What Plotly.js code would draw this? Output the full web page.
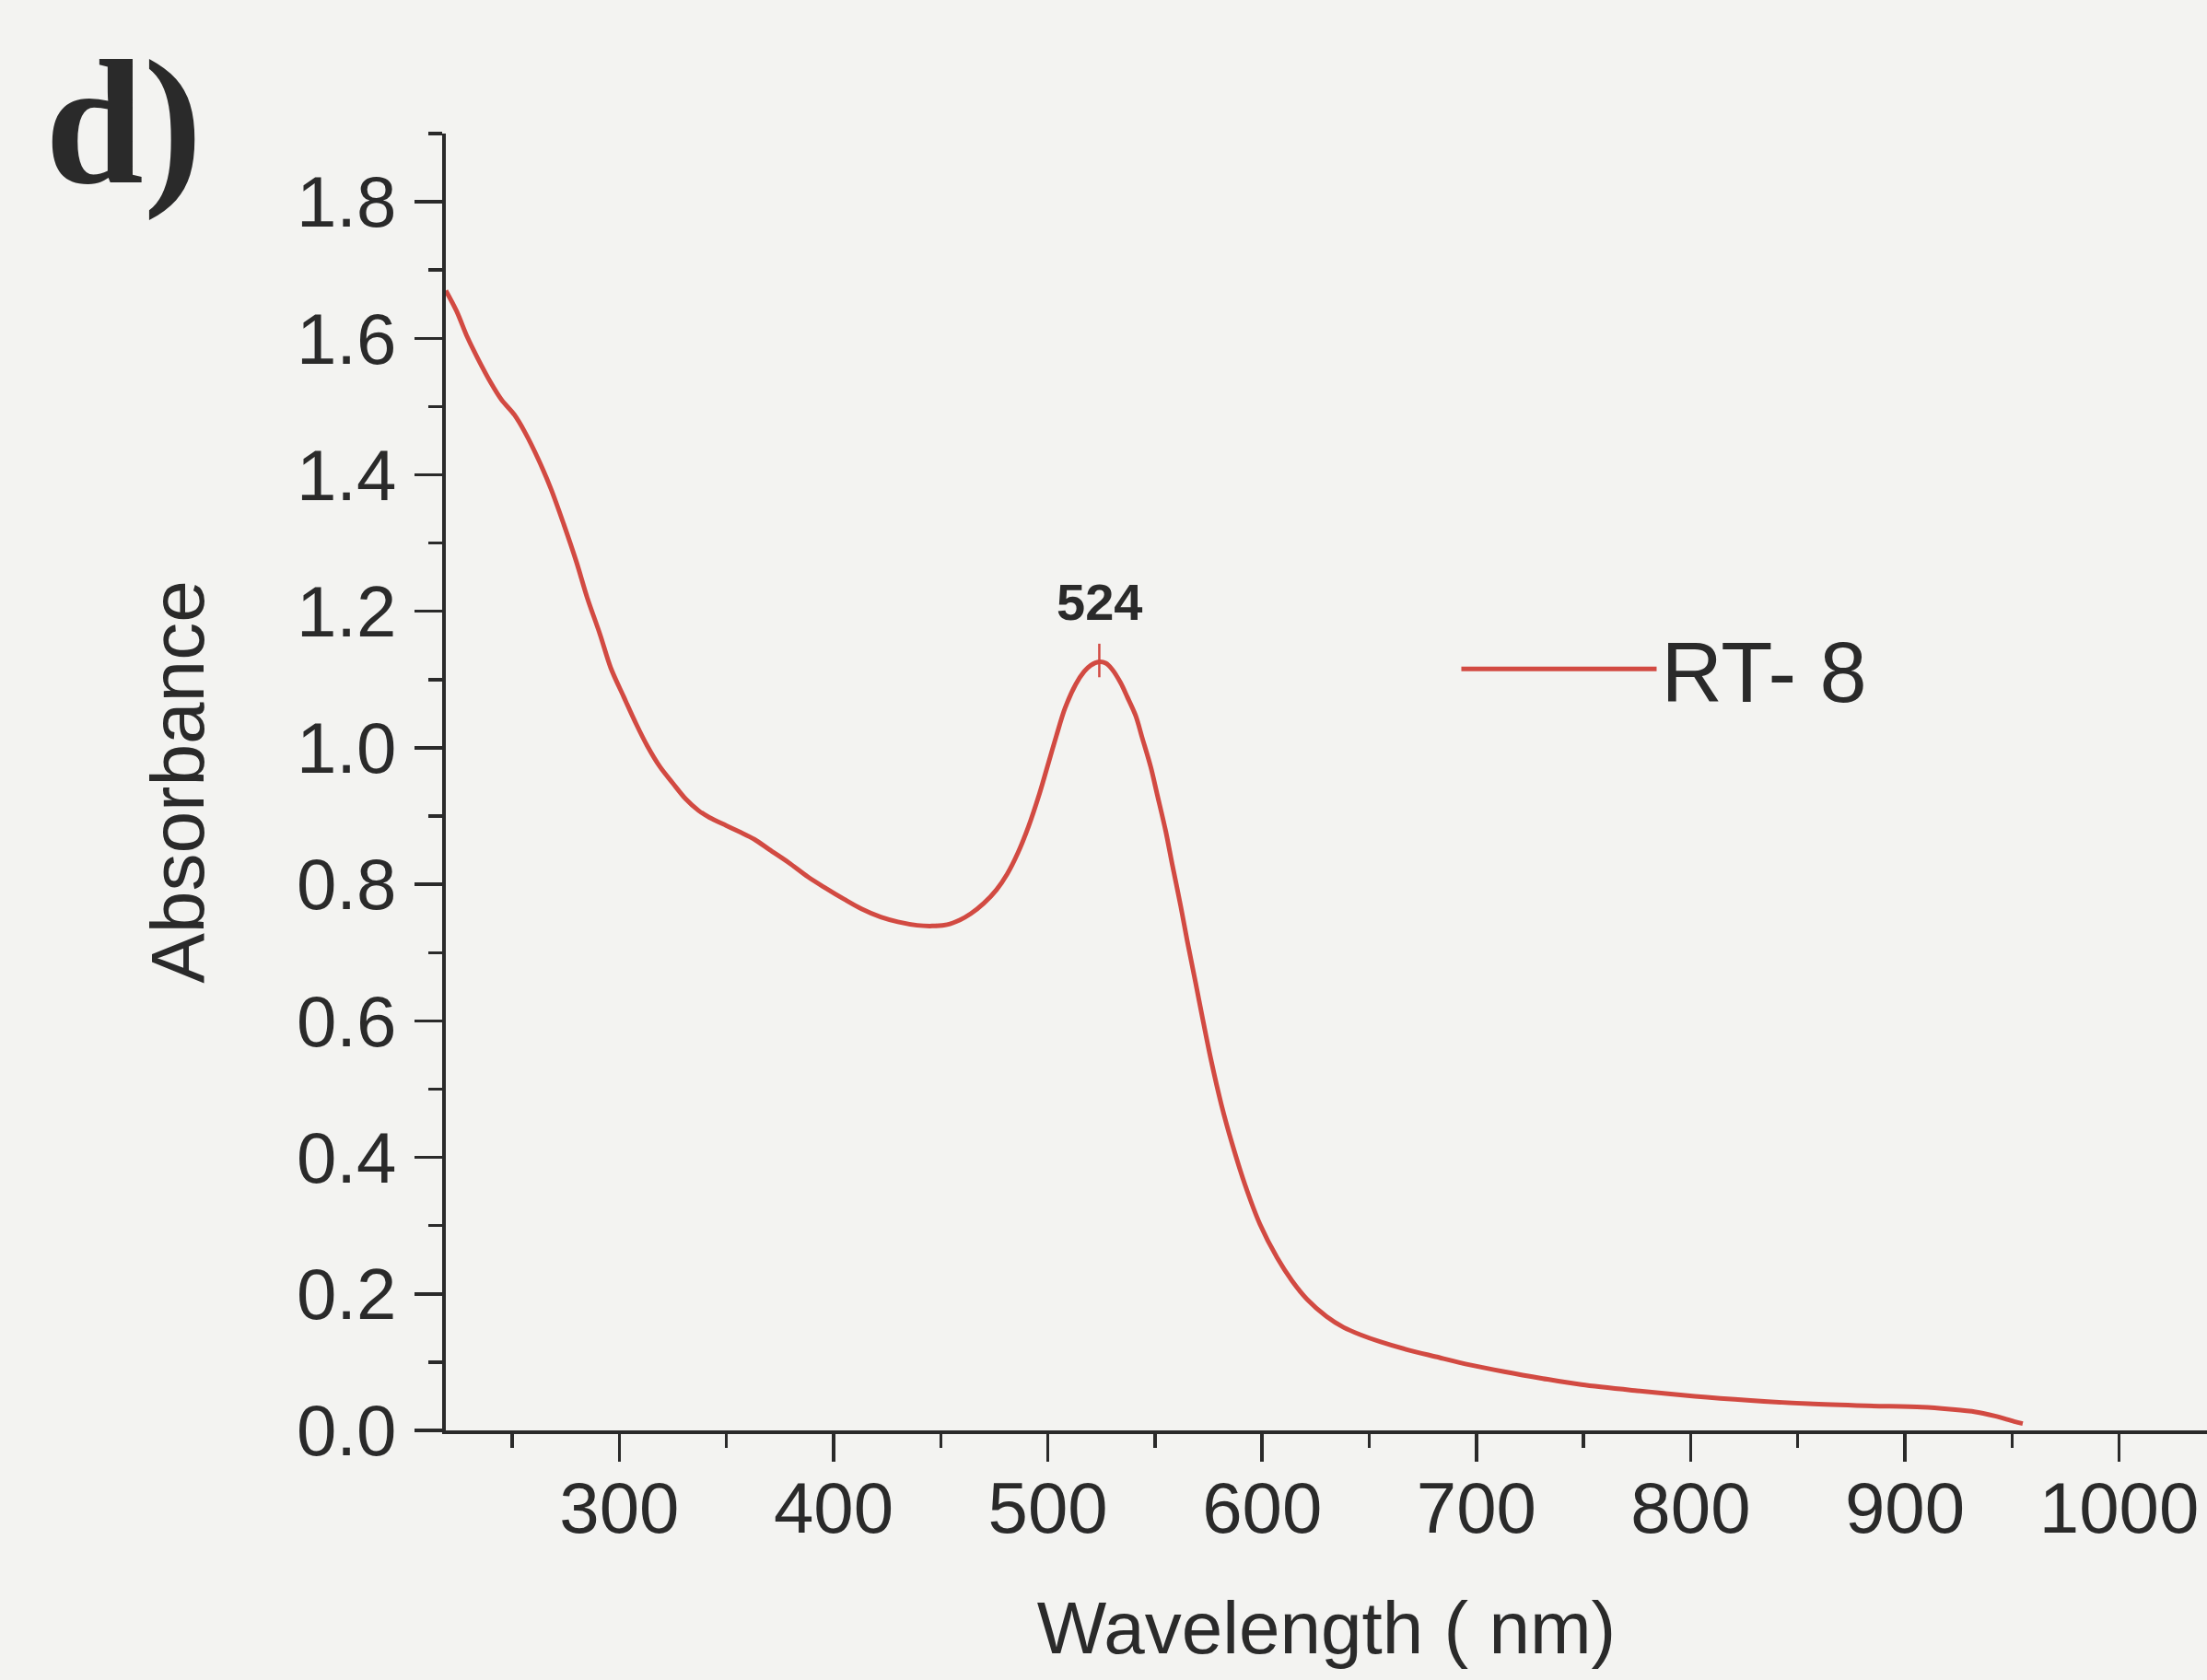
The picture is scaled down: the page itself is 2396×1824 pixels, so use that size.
<!DOCTYPE html>
<html>
<head>
<meta charset="utf-8">
<script src="https://cdn.plot.ly/plotly-3.0.1.min.js"></script>
<style>
  html, body { margin: 0; padding: 0; background: #f3f3f1; }
  #chart { width: 2396px; height: 1824px; }
</style>
</head>
<body>
<div id="chart"></div>
<script>
// ---- data ----
const wavelength = [219, 224, 229, 234, 240, 245, 251, 256, 262, 268, 274, 280, 285, 291, 296, 302, 308, 313, 319, 325,
  331, 337, 342, 350, 356, 363, 370, 379, 388, 396, 405, 413, 422, 430, 439, 446, 453, 459, 464, 470,
  476, 481, 486, 491, 496, 500, 504, 508, 513, 517, 520, 524, 527, 530, 534, 537, 541, 544, 548, 551,
  555, 558, 562, 565, 569, 572, 576, 581, 586, 592, 599, 607, 614, 621, 630, 638, 646, 655, 668, 681,
  697, 713, 731, 749, 775, 802, 828, 855, 882, 908, 921, 933, 942, 951, 955];
const absorbance = [1.670, 1.640, 1.602, 1.570, 1.535, 1.510, 1.488, 1.462, 1.424, 1.380, 1.328, 1.272, 1.220, 1.166, 1.117, 1.075, 1.034, 1.003, 0.972, 0.948,
  0.925, 0.908, 0.898, 0.886, 0.877, 0.866, 0.851, 0.832, 0.811, 0.795, 0.778, 0.764, 0.752, 0.745, 0.740, 0.739, 0.741, 0.748, 0.757, 0.772,
  0.792, 0.815, 0.846, 0.885, 0.932, 0.975, 1.018, 1.058, 1.093, 1.112, 1.121, 1.126, 1.124, 1.115, 1.095, 1.075, 1.047, 1.015, 0.972, 0.932,
  0.878, 0.830, 0.768, 0.718, 0.655, 0.607, 0.545, 0.477, 0.420, 0.360, 0.302, 0.253, 0.219, 0.192, 0.167, 0.151, 0.140, 0.130, 0.118, 0.108,
  0.096, 0.086, 0.076, 0.067, 0.058, 0.050, 0.044, 0.039, 0.036, 0.034, 0.031, 0.027, 0.021, 0.013, 0.010];
const seriesName = "RT- 8";
const peakWavelength = [524];
const peakAbsorbance = [1.128];
const peakLabel = ["524"];
const panelLabel = "d)";
const xTitle = "Wavelength ( nm)";
const yTitle = "Absorbance";

// ---- styles ----
const ink = "#2a2a2a";
const red = "#d24a42";
const sans = "Liberation Sans, Arial, sans-serif";

const traces = [
  {
    x: wavelength, y: absorbance, type: "scatter", mode: "lines",
    name: seriesName,
    line: { color: red, width: 5, shape: "spline", smoothing: 0.9 },
    showlegend: true
  },
  {
    x: peakWavelength, y: peakAbsorbance, type: "scatter", mode: "markers",
    marker: { symbol: "line-ns", size: 26, line: { color: red, width: 2.5 } },
    showlegend: false, hoverinfo: "skip"
  }
];

const layout = {
  width: 2396, height: 1824,
  paper_bgcolor: "#f3f3f1",
  plot_bgcolor: "#f3f3f1",
  margin: { l: 484, r: 0, t: 145, b: 271, pad: 0 },
  font: { family: sans, color: ink },
  xaxis: {
    range: [219, 1041],
    tickmode: "linear", tick0: 0, dtick: 100,
    ticks: "outside", ticklen: 30, tickwidth: 3.5, tickcolor: ink,
    minor: { dtick: 50, tick0: 0, ticks: "outside", ticklen: 15, tickwidth: 3.5, tickcolor: ink, showgrid: false },
    showline: true, linewidth: 4, linecolor: ink,
    showgrid: false, zeroline: false,
    tickfont: { family: sans, size: 78, color: ink },
    ticklabelstandoff: -17,
    title: { text: xTitle, font: { family: sans, size: 80, color: ink }, standoff: 60 }
  },
  yaxis: {
    range: [0, 1.9],
    tickmode: "linear", tick0: 0, dtick: 0.2, tickformat: ".1f",
    ticks: "outside", ticklen: 30, tickwidth: 3.5, tickcolor: ink,
    minor: { dtick: 0.1, tick0: 0, ticks: "outside", ticklen: 15, tickwidth: 3.5, tickcolor: ink, showgrid: false },
    showline: true, linewidth: 4, linecolor: ink,
    showgrid: false, zeroline: false,
    tickfont: { family: sans, size: 78, color: ink },
    ticklabelstandoff: 4,
    title: { text: yTitle, font: { family: sans, size: 82, color: ink }, standoff: 74 }
  },
  showlegend: true,
  legend: {
    x: 0.574, y: 0.587, xanchor: "left", yanchor: "middle",
    bgcolor: "rgba(0,0,0,0)", borderwidth: 0,
    font: { family: sans, size: 92, color: ink },
    itemwidth: 212
  },
  annotations: [
    {
      x: peakWavelength[0], y: peakAbsorbance[0], xref: "x", yref: "y",
      text: "<b>" + peakLabel[0] + "</b>", showarrow: false, yshift: 64,
      xanchor: "center", yanchor: "middle",
      font: { family: sans, size: 56, color: ink }
    },
    {
      x: -0.2286, y: 1.0085, xref: "paper", yref: "paper",
      text: "<b>" + panelLabel + "</b>", showarrow: false,
      xanchor: "left", yanchor: "middle",
      font: { family: "Liberation Serif, Times New Roman, serif", size: 192, color: ink }
    }
  ]
};

Plotly.newPlot("chart", traces, layout, { displayModeBar: false, staticPlot: true });
</script>
</body>
</html>
